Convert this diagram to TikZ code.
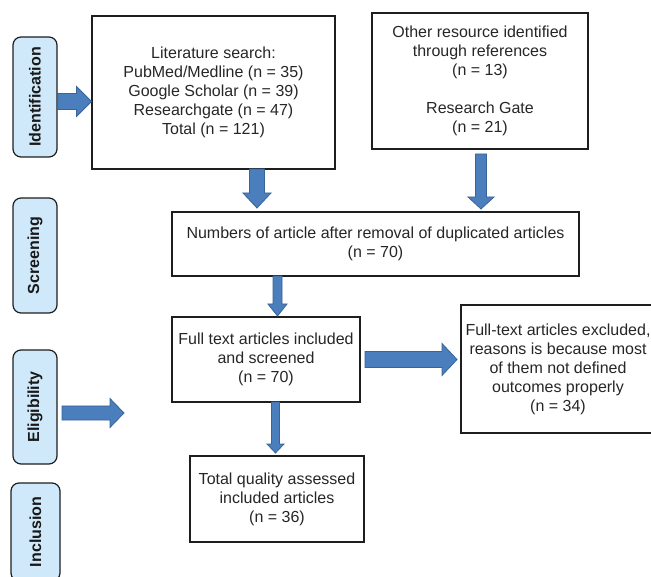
\documentclass[tikz,border=0pt]{standalone}
\usepackage{fontspec}
\setmainfont{Liberation Sans}
\usetikzlibrary{calc}
\definecolor{arrfill}{RGB}{74,126,189}
\definecolor{arrline}{RGB}{58,100,150}
\definecolor{lblfill}{RGB}{207,233,250}
\definecolor{boxline}{RGB}{30,30,30}
\tikzset{
 stage/.style={draw=boxline, line width=1.2pt, fill=lblfill, rounded corners=8pt, rotate=90, font=\fontsize{16}{19}\selectfont\bfseries, inner sep=0pt, text=black!90},
 flowbox/.style={draw=boxline, line width=1.1pt, align=center, font=\fontsize{16}{19}\selectfont, inner sep=0pt, text=black!85},
 blk/.style={fill=arrfill, draw=arrline, line width=0.8pt, line join=miter}
}
\newcommand{\vblk}[5]{%
 \draw[blk] let \p1=(#1), \p2=(#2) in (\x1-#3,\y1) -- (\x1+#3,\y1) -- (\x1+#3,\y2+#5) -- (\x1+#4,\y2+#5) -- (\x1,\y2) -- (\x1-#4,\y2+#5) -- (\x1-#3,\y2+#5) -- cycle;}
\newcommand{\hblk}[5]{%
 \draw[blk] let \p1=(#1), \p2=(#2) in (\x1,\y1+#3) -- (\x1,\y1-#3) -- (\x2-#5,\y1-#3) -- (\x2-#5,\y1-#4) -- (\x2,\y1) -- (\x2-#5,\y1+#4) -- (\x2-#5,\y1+#3) -- cycle;}
\begin{document}
\begin{tikzpicture}[x=1pt,y=-1pt]
\useasboundingbox (0,0) rectangle (651,577);
% stage labels
\node[stage, minimum width=120pt, minimum height=44pt] (ident) at (35,97) {Identification};
\node[stage, minimum width=115pt, minimum height=44pt] (screen) at (35,255.5) {Screening};
\node[stage, minimum width=114pt, minimum height=44pt] (elig) at (35,407) {Eligibility};
\node[stage, minimum width=98pt, minimum height=49pt] (incl) at (35.5,532) {Inclusion};
% boxes
\node[flowbox, minimum width=243pt, minimum height=153pt] (lit) at (213.5,92.5) {Literature search:\\PubMed/Medline (n = 35)\\Google Scholar (n = 39)\\Researchgate (n = 47)\\Total (n = 121)};
\node[flowbox, minimum width=216pt, minimum height=136pt] (other) at (480,81) {Other resource identified\\through references\\(n = 13)\\[19pt]Research Gate\\(n = 21)};
\node[flowbox, minimum width=407pt, minimum height=64pt] (num) at (375.5,244) {Numbers of article after removal of duplicated articles\\(n = 70)};
\node[flowbox, minimum width=188pt, minimum height=85pt] (full) at (266,359.5) {Full text articles included\\and screened\\(n = 70)};
\node[flowbox, minimum width=194pt, minimum height=128pt] (excl) at (558,369) {Full-text articles excluded,\\reasons is because most\\of them not defined\\outcomes properly\\(n = 34)};
\node[flowbox, minimum width=174pt, minimum height=86pt] (total) at (277,499) {Total quality assessed\\included articles\\(n = 36)};
% connector end points
\coordinate (a1) at (ident.south |- 0,101.5);
\coordinate (a2) at (lit.west |- 0,101.5);
\coordinate (b1) at (257,169);
\coordinate (b2) at (257,208);
\coordinate (c1) at (481,154);
\coordinate (c2) at (481,209);
\coordinate (d1) at (277.5,276);
\coordinate (d2) at (277.5,316);
\coordinate (e1) at (62,413);
\coordinate (e2) at (124,413);
\coordinate (f1) at (365,359.5);
\coordinate (f2) at (457,359.5);
\coordinate (g1) at (275.5,402);
\coordinate (g2) at (275.5,453);
% block arrows
\hblk{a1}{a2}{8pt}{15pt}{15pt}
\vblk{b1}{b2}{7.5pt}{14pt}{15pt}
\vblk{c1}{c2}{5.5pt}{13pt}{12pt}
\vblk{d1}{d2}{4.5pt}{9.5pt}{12pt}
\hblk{e1}{e2}{7pt}{14.5pt}{14pt}
\hblk{f1}{f2}{8pt}{16pt}{15pt}
\vblk{g1}{g2}{4pt}{8.5pt}{9pt}
\end{tikzpicture}
\end{document}
